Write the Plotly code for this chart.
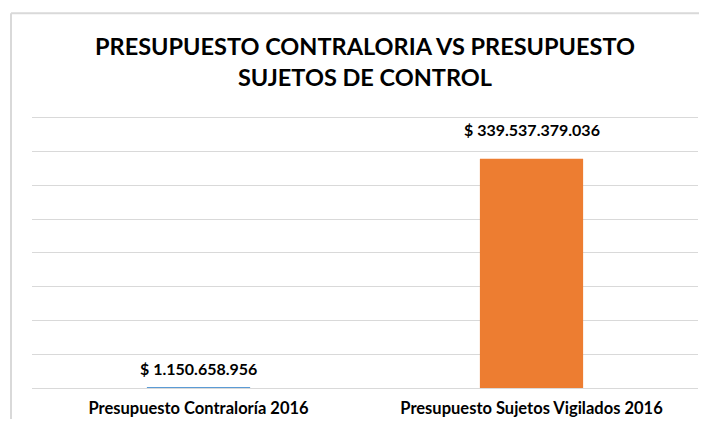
import plotly.graph_objects as go

CATEGORIES = ["Presupuesto Contraloría 2016", "Presupuesto Sujetos Vigilados 2016"]
VALUES = [1150658956, 339537379036]
LABELS = ["$ 1.150.658.956", "$ 339.537.379.036"]
BAR_COLORS = ["#5B9BD5", "#ED7D31"]

TITLE = "PRESUPUESTO CONTRALORIA VS PRESUPUESTO<br>SUJETOS DE CONTROL"
FONT = "Lato"
GRID_COLOR = "#D9D9D9"
TEXT_COLOR = "#000000"

# the page keeps the browser's 8px body margin, so the figure is sized to fit inside it
FIG_W, FIG_H = 691, 411

fig = go.Figure()
fig.add_bar(
    x=CATEGORIES,
    y=VALUES,
    marker_color=BAR_COLORS,
    marker_line_width=0,
    width=0.31,
    hoverinfo="skip",
)

# data labels sit a little above each bar (moved by hand in the original)
for cat, val, label, shift in zip(CATEGORIES, VALUES, LABELS, [19, 29]):
    fig.add_annotation(
        x=cat,
        y=val,
        text=f"<b>{label}</b>",
        showarrow=False,
        yanchor="middle",
        yshift=shift,
        font=dict(family=FONT, size=16, color=TEXT_COLOR),
    )

# chart frame, cropped at right and bottom
fig.add_shape(type="line", xref="paper", yref="paper",
              x0=-0.0315, x1=-0.0315, y0=-0.2, y1=1.378,
              line=dict(color=GRID_COLOR, width=2))
fig.add_shape(type="line", xref="paper", yref="paper",
              x0=-0.0315, x1=1.1, y0=1.378, y1=1.378,
              line=dict(color=GRID_COLOR, width=2))

fig.update_layout(
    width=FIG_W,
    height=FIG_H,
    paper_bgcolor="white",
    plot_bgcolor="white",
    margin=dict(l=24, r=1, t=108, b=28),
    showlegend=False,
    title=dict(
        text=f"<b>{TITLE}</b>",
        x=0.5,
        xref="paper",
        xanchor="center",
        y=1 - 47 / FIG_H,
        yref="container",
        yanchor="middle",
        font=dict(family=FONT, size=23.5, color=TEXT_COLOR),
    ),
    font=dict(family=FONT, color=TEXT_COLOR),
)
fig.update_xaxes(
    showgrid=False,
    showline=False,
    ticks="",
    ticklabelstandoff=8,
    tickfont=dict(family=FONT, size=16.5, color=TEXT_COLOR),
    tickprefix="<b>",
    ticksuffix="</b>",
)
# top of range a bit above the last gridline so plotly keeps drawing it
fig.update_yaxes(
    range=[0, 402.9e9],
    dtick=50e9,
    showticklabels=False,
    showgrid=True,
    gridcolor=GRID_COLOR,
    gridwidth=1,
    zeroline=True,
    zerolinecolor=GRID_COLOR,
    zerolinewidth=1,
)

fig.write_html("out.html")
